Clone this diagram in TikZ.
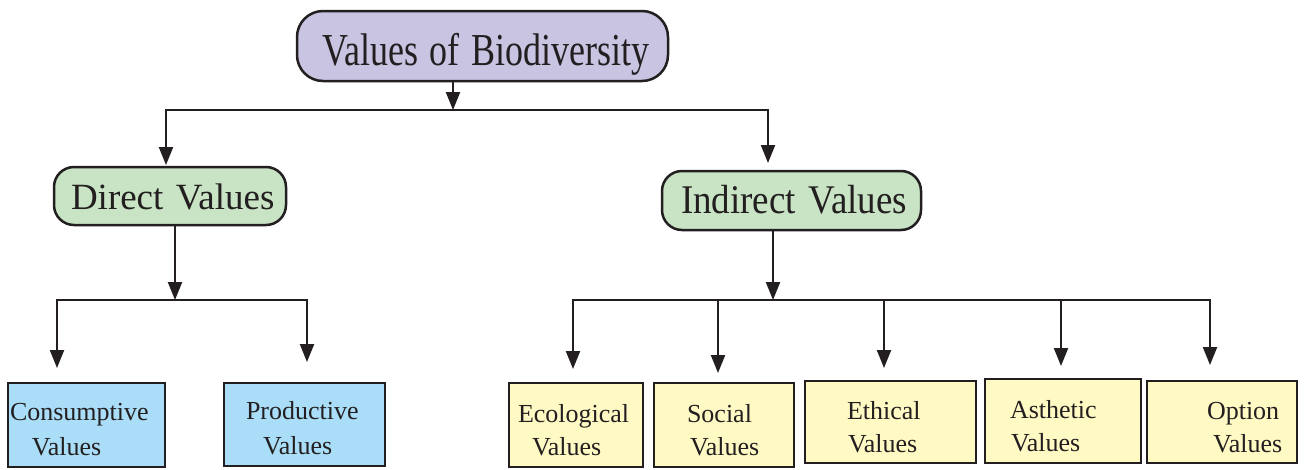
\documentclass[tikz,border=0pt]{standalone}
\usepackage{fontspec}
\setmainfont{Liberation Serif}
\usetikzlibrary{arrows.meta}
\definecolor{ink}{RGB}{35,31,32}
\definecolor{lav}{RGB}{200,196,226}
\definecolor{grn}{RGB}{200,228,196}
\definecolor{blu}{RGB}{170,222,248}
\definecolor{yel}{RGB}{255,249,196}
\begin{document}
\begin{tikzpicture}[x=1pt,y=-1pt,
  base/.style={draw=ink, line width=2.5pt, text=ink, align=left, inner sep=0pt, outer sep=0pt},
  topbox/.style={base, fill=lav, rounded corners=26pt, font=\fontsize{36}{40}\selectfont},
  midbox/.style={base, fill=grn, rounded corners=20pt, font=\fontsize{37}{40}\selectfont},
  bluebox/.style={base, fill=blu, font=\fontsize{26}{35}\selectfont, text height=0pt, text depth=10pt},
  yelbox/.style={base, fill=yel, font=\fontsize{26}{33}\selectfont, text height=0pt, text depth=5pt},
  arr/.style={draw=ink, line width=2.2pt, -{Triangle[length=18pt,width=14pt]}}
]
\useasboundingbox (0,0) rectangle (1304,469);

% top
\node[topbox, minimum width=371pt, minimum height=70pt, text width=371pt, text height=38pt, text depth=0pt]
  (title) at (482.5,46) {\hspace*{25pt}\scalebox{1}[1.27]{Values of Biodiversity}};

% second level
\node[midbox, minimum width=232pt, minimum height=58pt, text width=232pt, text height=26pt, text depth=0pt]
  (direct) at (170,196) {\hspace*{17pt}Direct Values};
\node[midbox, minimum width=259pt, minimum height=59pt, text width=259pt, text height=25pt, text depth=0pt]
  (indirect) at (791.5,200.5) {\hspace*{19pt}\scalebox{1}[1.1]{Indirect Values}};

% direct children
\node[bluebox, minimum width=157pt, minimum height=84pt, text width=157pt]
  (cons) at (86.5,425) {\hspace*{2pt}Consumptive\\\hspace*{24pt}Values};
\node[bluebox, minimum width=161pt, minimum height=83pt, text width=161pt]
  (prod) at (304.5,424.5) {\hspace*{22pt}Productive\\\hspace*{39pt}Values};

% indirect children
\node[yelbox, minimum width=134pt, minimum height=84pt, text width=134pt]
  (eco) at (576,425) {\hspace*{9pt}Ecological\\\hspace*{23pt}Values};
\node[yelbox, minimum width=140pt, minimum height=84pt, text width=140pt]
  (soc) at (724,425) {\hspace*{33pt}Social\\\hspace*{36pt}Values};
\node[yelbox, minimum width=171pt, minimum height=82pt, text width=171pt]
  (eth) at (890.5,422) {\hspace*{42pt}Ethical\\\hspace*{43pt}Values};
\node[yelbox, minimum width=156pt, minimum height=84pt, text width=156pt]
  (ast) at (1063,421) {\hspace*{25pt}Asthetic\\\hspace*{26pt}Values};
\node[yelbox, minimum width=150pt, minimum height=82pt, text width=150pt]
  (opt) at (1222,422) {\hspace*{60pt}Option\\\hspace*{66pt}Values};

% junctions and arrow ends
\coordinate (j0) at (453,110);
\coordinate (tDir) at (166,165);
\coordinate (tInd) at (768,163);
\coordinate (j1) at (175,300);
\coordinate (tCons) at (57,368);
\coordinate (tProd) at (307,362);
\coordinate (j2) at (773,300);
\coordinate (tEco) at (573,369);
\coordinate (tSoc) at (718,373);
\coordinate (tEth) at (884,368);
\coordinate (tAst) at (1061,366);
\coordinate (tOpt) at (1210,365);

% connectors
\draw[arr] (title.south -| j0) -- (j0);
\draw[arr] (j0) -| (tDir);
\draw[arr] (j0) -| (tInd);

\draw[arr] (direct.south -| j1) -- (j1);
\draw[arr] (j1) -| (tCons);
\draw[arr] (j1) -| (tProd);

\draw[arr] (indirect.south -| j2) -- (j2);
\draw[arr] (j2) -| (tEco);
\draw[arr] (j2) -| (tSoc);
\draw[arr] (j2) -| (tEth);
\draw[arr] (j2) -| (tAst);
\draw[arr] (j2) -| (tOpt);
\end{tikzpicture}
\end{document}
